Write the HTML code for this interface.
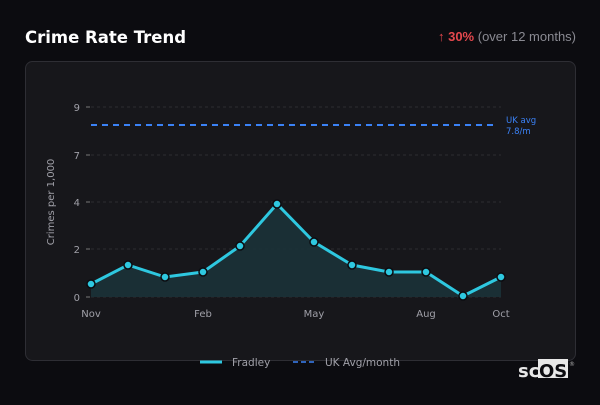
<!DOCTYPE html><html><head><style>
body{margin:0;background:#0c0c10;width:600px;height:400px;overflow:hidden;font-family:"Liberation Sans","DejaVu Sans",sans-serif}
</style></head><body>
<svg width="600" height="400" xmlns="http://www.w3.org/2000/svg" font-family="DejaVu Sans, Liberation Sans, sans-serif">
<rect width="600" height="400" fill="#0c0c10"/>
<text x="25" y="43" fill="#fff" font-size="16.5" font-weight="bold">Crime Rate Trend</text>
<text x="576" y="41" text-anchor="end" font-size="13" font-family="Liberation Sans, sans-serif" fill="#8a8a92"><tspan fill="#e5484d">↑</tspan><tspan fill="#e5484d" font-weight="bold"> 30%</tspan> (over 12 months)</text>
<rect x="25.5" y="61.5" width="550" height="299" rx="7" fill="#17171b" stroke="#2e2e34"/>
<g stroke="#2c2c30" stroke-dasharray="3,3">
<line x1="91" x2="501" y1="107" y2="107"/><line x1="91" x2="501" y1="155" y2="155"/><line x1="91" x2="501" y1="202" y2="202"/><line x1="91" x2="501" y1="249" y2="249"/><line x1="91" x2="501" y1="297" y2="297"/>
</g>
<g stroke="#777" ><line x1="86" x2="90" y1="107" y2="107"/><line x1="86" x2="90" y1="155" y2="155"/><line x1="86" x2="90" y1="202" y2="202"/><line x1="86" x2="90" y1="249" y2="249"/><line x1="86" x2="90" y1="297" y2="297"/></g>
<g fill="#a0a0a8" font-size="10" text-anchor="end">
<text x="80" y="111">9</text><text x="80" y="159">7</text><text x="80" y="206">4</text><text x="80" y="253">2</text><text x="80" y="301">0</text></g>
<text transform="translate(54,202) rotate(-90)" text-anchor="middle" fill="#a0a0a8" font-size="10">Crimes per 1,000</text>
<g fill="#a0a0a8" font-size="10" text-anchor="middle">
<text x="91" y="317">Nov</text><text x="203" y="317">Feb</text><text x="314" y="317">May</text><text x="426" y="317">Aug</text><text x="501" y="317">Oct</text></g>
<line x1="91" x2="498" y1="125" y2="125" stroke="#3b82f6" stroke-width="2" stroke-dasharray="6,5"/>
<text x="506" y="123" fill="#3b82f6" font-size="8.5">UK avg</text><text x="506" y="134" fill="#3b82f6" font-size="8.5">7.8/m</text>
<path d="M91,284 L128,265 L165,277 L203,272 L240,246 L277,204 L314,242 L352,265 L389,272 L426,272 L463,296 L501,277 L501,297 L91,297Z" fill="#1b3238" opacity="0.9"/>
<polyline points="91,284 128,265 165,277 203,272 240,246 277,204 314,242 352,265 389,272 426,272 463,296 501,277" fill="none" stroke="#2ec8e0" stroke-width="3" stroke-linejoin="round"/>
<g fill="#2ec8e0" stroke="#0c0c10" stroke-width="1.5">
<circle cx="91" cy="284" r="4"/><circle cx="128" cy="265" r="4"/><circle cx="165" cy="277" r="4"/><circle cx="203" cy="272" r="4"/><circle cx="240" cy="246" r="4"/><circle cx="277" cy="204" r="4"/><circle cx="314" cy="242" r="4"/><circle cx="352" cy="265" r="4"/><circle cx="389" cy="272" r="4"/><circle cx="426" cy="272" r="4"/><circle cx="463" cy="296" r="4"/><circle cx="501" cy="277" r="4"/></g>
<line x1="200" x2="222" y1="362" y2="362" stroke="#2ec8e0" stroke-width="3"/>
<text x="232" y="366" fill="#a0a0a8" font-size="10.5">Fradley</text>
<line x1="293" x2="317" y1="362" y2="362" stroke="#3b82f6" stroke-width="1.5" stroke-dasharray="5,3"/>
<text x="325" y="366" fill="#a0a0a8" font-size="10.5">UK Avg/month</text>
<rect x="538" y="359" width="30" height="19" fill="#e8e8e8"/>
<text x="518" y="377" fill="#e8e8e8" font-size="18" font-weight="bold">sc</text>
<text x="539" y="377" fill="#0c0c10" font-size="18" font-weight="bold">OS</text>
<text x="569" y="366" fill="#aaa" font-size="6">®</text>
</svg></body></html>
